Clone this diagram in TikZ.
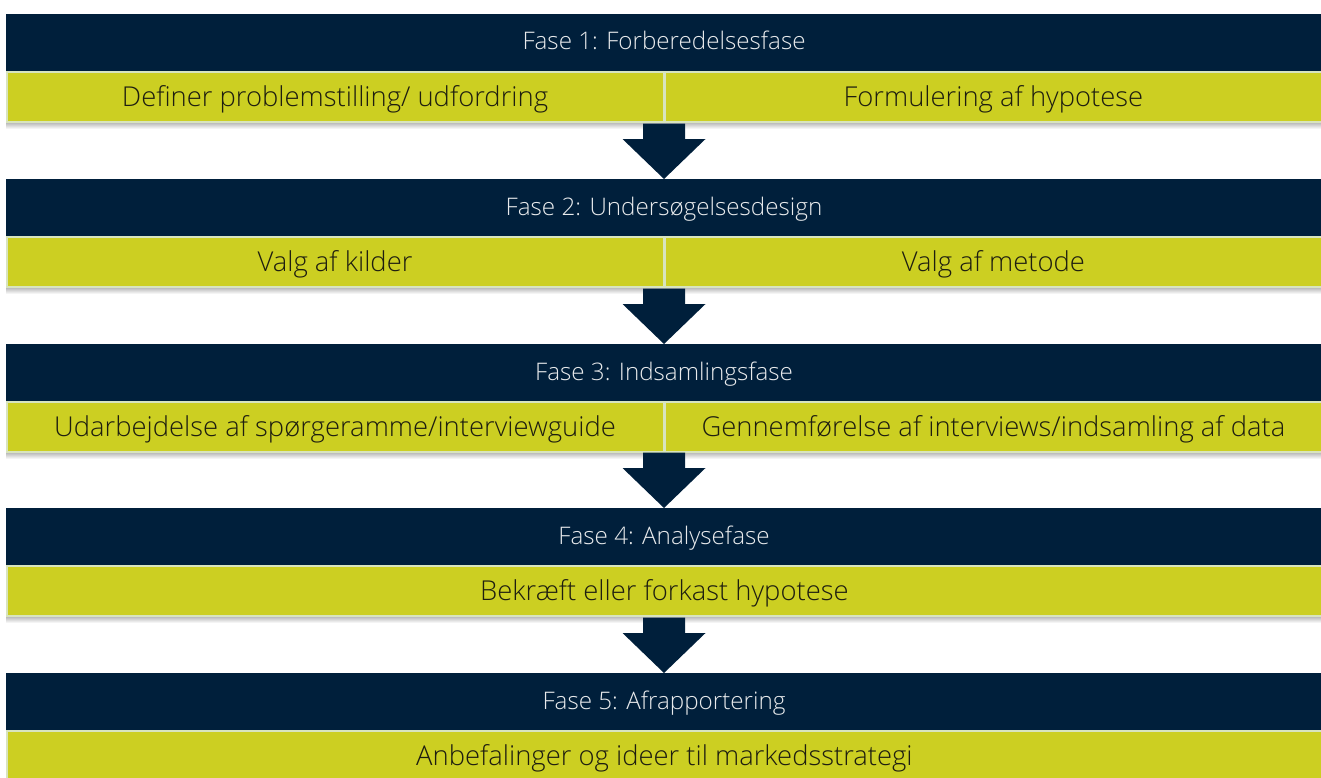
\documentclass[tikz,border=0pt]{standalone}
\usepackage{fontspec}
\setmainfont{Open Sans}[UprightFont=* Light]
\usetikzlibrary{calc}
\definecolor{navy}{HTML}{001F3B}
\definecolor{lime}{HTML}{CCCF22}
\definecolor{pale}{HTML}{D8E4BE}
\definecolor{hdrtxt}{HTML}{E8EAEC}
\definecolor{celltxt}{HTML}{1E1E10}
\tikzset{
  hdrbox/.style={fill=navy, draw=none, inner sep=0pt, outer sep=0pt, anchor=north west,
    minimum width=1316bp, text height=36bp, text depth=20.5bp, text=hdrtxt,
    font=\fontsize{24.2bp}{28bp}\selectfont},
  cellbox/.style={fill=lime, draw=pale, line width=1.5bp, inner sep=0pt, outer sep=0pt,
    anchor=north west, text height=34.75bp, text depth=15.5bp, text=celltxt,
    font=\fontsize{27.4bp}{31bp}\selectfont},
  halfL/.style={cellbox, minimum width=656.5bp},
  halfR/.style={cellbox, minimum width=657.25bp},
  full/.style={cellbox, minimum width=1315.25bp},
  shadowbar/.style={top color=black!28, bottom color=white, draw=none},
  blockarrow/.style={fill=navy, draw=none}
}
\begin{document}
\begin{tikzpicture}[x=1bp,y=-1bp]
\useasboundingbox (0,0) rectangle (1321,777);
\clip (0,0) rectangle (1321,777);
% shadows under green rows
\foreach \t in {14,179,344,508}{
  \shade[shadowbar] (6,\t+108.5) rectangle (1321,\t+115);
}
% Fase 1
\node[hdrbox] (h1) at (6,14) {Fase 1: Forberedelsesfase};
\node[halfL] (c1a) at (6.75,71.75) {Definer problemstilling/ udfordring};
\node[halfR] (c1b) at (664.75,71.75) {Formulering af hypotese};
% Fase 2
\node[hdrbox] (h2) at (6,179) {Fase 2: Undersøgelsesdesign};
\node[halfL] (c2a) at (6.75,236.75) {Valg af kilder};
\node[halfR] (c2b) at (664.75,236.75) {Valg af metode};
% Fase 3
\node[hdrbox] (h3) at (6,344) {Fase 3: Indsamlingsfase};
\node[halfL] (c3a) at (6.75,401.75) {Udarbejdelse af spørgeramme/interviewguide};
\node[halfR] (c3b) at (664.75,401.75) {Gennemførelse af interviews/indsamling af data};
% Fase 4
\node[hdrbox] (h4) at (6,508) {Fase 4: Analysefase};
\node[full] (c4) at (6.75,565.75) {Bekræft eller forkast hypotese};
% Fase 5
\node[hdrbox] (h5) at (6,673) {Fase 5: Afrapportering};
\node[full] (c5) at (6.75,730.75) {Anbefalinger og ideer til markedsstrategi};
% block arrows
\foreach \a/\b in {c1a/h2,c2a/h3,c3a/h4,c4/h5}{
  \fill[blockarrow] ($(\b.north)+(-21,-55.5)$) -- ($(\b.north)+(21,-55.5)$)
    -- ($(\b.north)+(21,-40)$) -- ($(\b.north)+(41.5,-40)$) -- (\b.north)
    -- ($(\b.north)+(-41.5,-40)$) -- ($(\b.north)+(-21,-40)$) -- cycle;
}
\end{tikzpicture}
\end{document}
